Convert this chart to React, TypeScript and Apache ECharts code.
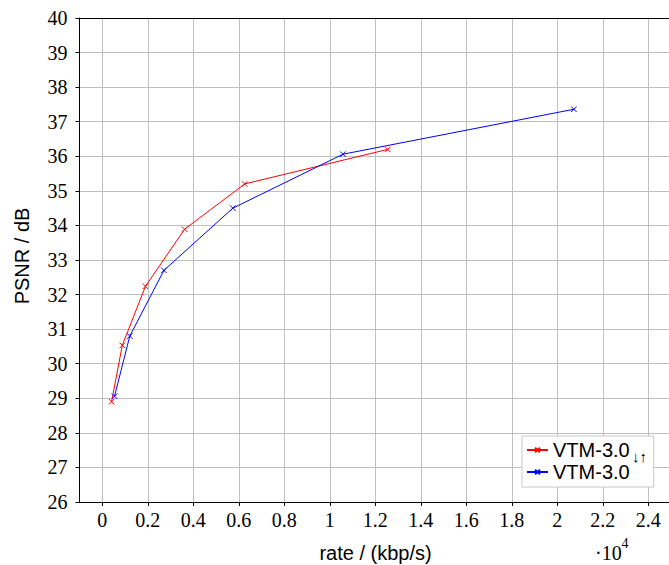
import React, { useEffect, useRef } from "react";
import * as echarts from "echarts";

// rate in units of 10^4 kbp/s, PSNR in dB
const redName = "VTM-3.0↓↑";
const redRate = [0.041, 0.088, 0.19, 0.362, 0.626, 1.255];
const redPsnr = [28.9, 30.53, 32.24, 33.89, 35.2, 36.2];

const blueName = "VTM-3.0";
const blueRate = [0.054, 0.121, 0.271, 0.574, 1.058, 2.073];
const bluePsnr = [29.06, 30.8, 32.7, 34.5, 36.06, 37.36];

const xTicks = [0, 0.2, 0.4, 0.6, 0.8, 1, 1.2, 1.4, 1.6, 1.8, 2, 2.2, 2.4];
const yTicks = [26, 27, 28, 29, 30, 31, 32, 33, 34, 35, 36, 37, 38, 39, 40];

const SERIF = "'Liberation Serif', 'Times New Roman', Times, serif";
const SANS = "'Liberation Sans', Arial, Helvetica, sans-serif";
const CROSS = "path://M0,0L10,10M10,0L0,10";

export default function App() {
  const ref = useRef<HTMLDivElement>(null);
  useEffect(() => {
    if (!ref.current) return;
    const chart = echarts.init(ref.current, null, { renderer: "svg" });
    const mk = (name: string, xs: number[], ys: number[], color: string) => ({
      name,
      type: "line",
      data: xs.map((x, i) => [x, ys[i]]),
      symbol: CROSS,
      symbolSize: 5.5,
      showSymbol: true,
      lineStyle: { color, width: 1 },
      itemStyle: { color, borderColor: color, borderWidth: 1 },
      emphasis: { disabled: true },
    });
    chart.setOption({
      animation: false,
      backgroundColor: "#ffffff",
      grid: { left: 79.5, top: 18, right: 0, bottom: 63, containLabel: false },
      xAxis: [
        {
          type: "value",
          min: -0.1,
          max: 2.491,
          position: "bottom",
          axisLine: { show: true, lineStyle: { color: "#000", width: 1 } },
          axisTick: {
            show: true,
            inside: false,
            length: 4,
            customValues: xTicks,
            lineStyle: { color: "#000", width: 1 },
          },
          axisLabel: { show: false, customValues: xTicks },
          splitLine: { show: true, lineStyle: { color: "#bfbfbf", width: 1 } },
        },
        {
          type: "value",
          min: -0.1,
          max: 2.491,
          position: "top",
          axisLine: { show: true, onZero: false, lineStyle: { color: "#000", width: 1 } },
          axisTick: { show: false },
          axisLabel: { show: false },
          splitLine: { show: false },
        },
      ],
      yAxis: {
        type: "value",
        min: 26,
        max: 40,
        interval: 1,
        axisLine: { show: true, onZero: false, lineStyle: { color: "#000", width: 1 } },
        axisTick: { show: true, inside: false, length: 4, lineStyle: { color: "#000", width: 1 } },
        axisLabel: { show: false },
        splitLine: { show: true, lineStyle: { color: "#bfbfbf", width: 1 } },
      },
      legend: {
        data: [redName, blueName],
        orient: "vertical",
        left: 522,
        top: 436,
        padding: [4, 7, 5, 4],
        itemWidth: 21,
        itemHeight: 6,
        itemGap: 2,
        z: 4,
        backgroundColor: "#ffffff",
        borderColor: "#c8c8c8",
        borderWidth: 1,
        borderRadius: 0,
        selectedMode: false,
        formatter: (name: string) =>
          name === redName ? "{a|VTM-3.0}{b|}" : "{a|VTM-3.0}",
        textStyle: {
          color: "#000",
          fontFamily: SANS,
          fontSize: 20,
          rich: {
            a: { fontFamily: SANS, fontSize: 20, lineHeight: 20, color: "#000" },
            b: { width: 17, lineHeight: 20 },
          },
        },
      },
      series: [mk(redName, redRate, redPsnr, "#ff0000"), mk(blueName, blueRate, bluePsnr, "#0000ff")],
    });

    // tick labels placed through the chart's own axis scales
    const xLabelEls = xTicks.map((v) => ({
      type: "text",
      x: chart.convertToPixel({ xAxisIndex: 0 }, v) as number,
      y: 520,
      z: 50,
      style: {
        text: String(v),
        font: "20px " + SERIF,
        fill: "#000",
        align: "center",
        verticalAlign: "middle",
      },
    }));
    const yLabelEls = yTicks.map((v) => ({
      type: "text",
      x: 67.5,
      y: chart.convertToPixel({ yAxisIndex: 0 }, v) as number,
      z: 50,
      style: {
        text: String(v),
        font: "20px " + SERIF,
        fill: "#000",
        align: "right",
        verticalAlign: "middle",
      },
    }));

    chart.setOption({
      graphic: [
        ...xLabelEls,
        ...yLabelEls,
        {
          type: "text",
          x: 632,
          y: 456,
          z: 100,
          style: {
            text: "↓↑",
            font: "15px " + SANS,
            fill: "#000",
            align: "left",
            verticalAlign: "middle",
          },
        },
        {
          type: "text",
          x: 22,
          y: 256,
          rotation: Math.PI / 2,
          style: {
            text: "PSNR / dB",
            font: "20px " + SANS,
            fill: "#000",
            align: "center",
            verticalAlign: "middle",
          },
        },
        {
          type: "text",
          x: 375.5,
          y: 553,
          style: {
            text: "rate / (kbp/s)",
            font: "20px " + SANS,
            fill: "#000",
            align: "center",
            verticalAlign: "middle",
          },
        },
        {
          type: "text",
          x: 595,
          y: 552.5,
          style: {
            text: "·10",
            font: "20px " + SERIF,
            fill: "#000",
            align: "left",
            verticalAlign: "middle",
          },
        },
        {
          type: "text",
          x: 621.5,
          y: 543.8,
          style: {
            text: "4",
            font: "14px " + SERIF,
            fill: "#000",
            align: "left",
            verticalAlign: "middle",
          },
        },
      ],
    });
    return () => chart.dispose();
  }, []);
  return (
    <div
      ref={ref}
      style={{ position: "fixed", left: 0, top: 0, width: 669, height: 565, background: "#fff" }}
    />
  );
}
